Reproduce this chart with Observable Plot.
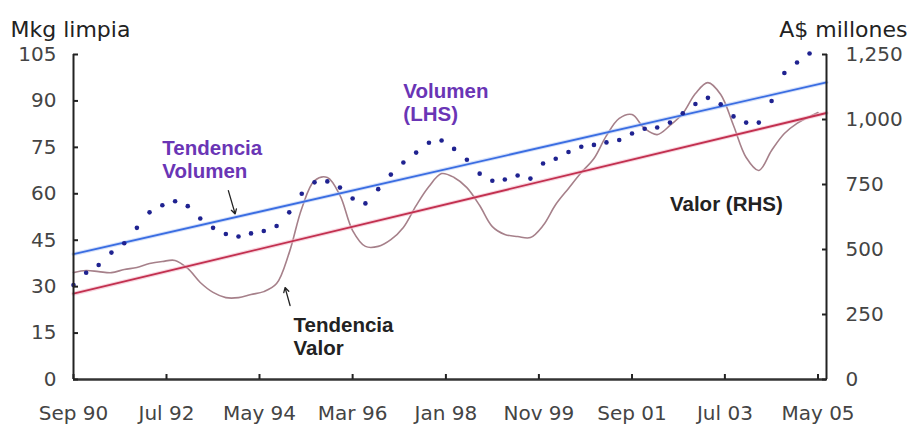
<!DOCTYPE html>
<html><head><meta charset="utf-8">
<script src="https://cdn.jsdelivr.net/npm/d3@7"></script>
<script src="https://cdn.jsdelivr.net/npm/@observablehq/plot@0.6"></script>
<style>body{margin:0;background:#fff;} svg{display:block;}</style>
</head><body><div id="chart"></div>
<script>
// Quarterly observation dates (Sep 1990 .. Mar 2005)
const quarters = ["1990-09","1990-12","1991-03","1991-06","1991-09","1991-12","1992-03","1992-06","1992-09","1992-12",
  "1993-03","1993-06","1993-09","1993-12","1994-03","1994-06","1994-09","1994-12","1995-03","1995-06",
  "1995-09","1995-12","1996-03","1996-06","1996-09","1996-12","1997-03","1997-06","1997-09","1997-12",
  "1998-03","1998-06","1998-09","1998-12","1999-03","1999-06","1999-09","1999-12","2000-03","2000-06",
  "2000-09","2000-12","2001-03","2001-06","2001-09","2001-12","2002-03","2002-06","2002-09","2002-12",
  "2003-03","2003-06","2003-09","2003-12","2004-03","2004-06","2004-09","2004-12","2005-03"];
// Volumen (LHS, Mkg limpia)
const volumen = [30.5,34.5,37,41,44,49,54,56.3,57.6,56,
  52,49,47,46.2,47.2,48,49.6,54,60,63.7,
  64,62,58.5,56.9,61.5,66.2,70.1,73.3,76.5,77.2,
  74.5,71,66.5,64.2,64.6,65.9,64.9,69.8,71.3,73.5,
  75.2,75.8,76.6,77.4,79.5,81,81.4,83,86,89,
  91,88.9,85,83,83,90,99,102.4,105.3];
// Valor (RHS, A$ millones)
const valorDates = [...quarters, "2005-05"];
const valor = [411,419,415,411,423,431,446,454,458,427,
  373,335,315,315,327,338,369,488,658,765,
  777,708,573,512,512,538,585,669,742,792,
  777,738,669,588,558,550,546,592,673,735,
  796,850,938,1004,1019,965,942,977,1023,1100,
  1142,1096,977,854,804,881,946,985,1011,1027];
// Trend lines
const trendDates = ["1990-09","2005-07"];
const trendVolumen = [40.5, 96];      // LHS
const trendValor = [330, 1025];       // RHS
// Axis ticks
const xTicks = ["1990-09","1992-07","1994-05","1996-03","1998-01","1999-11","2001-09","2003-07","2005-05"];
const yTicksL = [0,15,30,45,60,75,90,105];
const yTicksR = [0,250,500,750,1000,1250];
// Annotations
const labels = [
  {date:"1992-06", y:71.2, text:"Tendencia\nVolumen", color:"#6a35b5"},
  {date:"1997-03", y:89.7, text:"Volumen\n(LHS)", color:"#6a35b5"},
  {date:"2002-06", y:56.9, text:"Valor (RHS)", color:"#222"},
  {date:"1995-01", y:13.9, text:"Tendencia\nValor", color:"#222"}
];
const arrows = [
  {d1:"1993-09-19", y1:61, d2:"1993-11-07", y2:53.5},
  {d1:"1994-12-07", y1:23.9, d2:"1994-11-01", y2:29.7}
];

const k = 105/1250;
const parse = d3.utcParse("%Y-%m");
const parseD = s => s.length > 7 ? d3.utcParse("%Y-%m-%d")(s) : parse(s);
const volData = quarters.map((q,i)=>({date:parse(q), v:volumen[i]}));
const valData = valorDates.map((q,i)=>({date:parse(q), v:valor[i]*k}));
const tVol = trendDates.map((q,i)=>({date:parse(q), v:trendVolumen[i]}));
const tVal = trendDates.map((q,i)=>({date:parse(q), v:trendValor[i]*k}));
const x0 = parse(trendDates[0]), x1 = parse(trendDates[1]);
const axisFont = "'DejaVu Sans', sans-serif";

const chart = Plot.plot({
  width: 914, height: 429,
  marginLeft: 73, marginRight: 88, marginTop: 54, marginBottom: 50,
  style: {fontFamily: "'Liberation Sans', Arial, sans-serif", fontSize: "20px", color: "#333", background: "#fff"},
  x: {type: "utc", domain: [x0, x1]},
  y: {domain: [0, 105]},
  marks: [
    Plot.line(valData, {x:"date", y:"v", stroke:"#a6808a", strokeWidth:1.6, curve:"catmull-rom"}),
    Plot.line(tVal, {x:"date", y:"v", stroke:"#f2b8c8", strokeWidth:4, strokeOpacity:0.6}),
    Plot.line(tVal, {x:"date", y:"v", stroke:"#c2304f", strokeWidth:1.8}),
    Plot.line(tVol, {x:"date", y:"v", stroke:"#b9ccf5", strokeWidth:4, strokeOpacity:0.6}),
    Plot.line(tVol, {x:"date", y:"v", stroke:"#3a6de2", strokeWidth:1.8}),
    Plot.dot(volData, {x:"date", y:"v", r:2.3, fill:"#1f2290", stroke:"none"}),
    Plot.ruleX([x0], {stroke:"#222", strokeWidth:2}),
    Plot.ruleX([x1], {stroke:"#222", strokeWidth:2}),
    Plot.ruleY([0], {stroke:"#333", strokeWidth:2.5}),
    Plot.axisX({ticks: xTicks.map(parse), tickFormat: d3.utcFormat("%b %y"), tickSize: -5, tickPadding: 31, label: null, stroke:"#222", strokeWidth:2, fontFamily: axisFont, fontSize: 20, fill:"#444"}),
    Plot.axisY({anchor:"left", ticks: yTicksL, tickSize: -5, tickPadding: 22, label: null, stroke:"#222", strokeWidth:2, fontFamily: axisFont, fontSize: 20, fill:"#444"}),
    Plot.axisY({anchor:"right", ticks: yTicksR.map(v=>v*k), tickFormat: d => d3.format(",")(Math.round(d/k)), tickSize: -5, tickPadding: 24, label: null, stroke:"#222", strokeWidth:2, fontFamily: axisFont, fontSize: 20, fill:"#444"}),
    Plot.text(labels, {x: d=>parse(d.date), y:"y", text:"text", fill:"color", textAnchor:"start", fontWeight:"bold", fontSize:20.5, lineHeight:1.12}),
    Plot.arrow(arrows, {x1: d=>parseD(d.d1), y1:"y1", x2: d=>parseD(d.d2), y2:"y2", stroke:"#222", strokeWidth:1.3, headLength:6}),
    Plot.text(["Mkg limpia"], {frameAnchor:"top-left", textAnchor:"start", dx:-63, dy:-33, fontSize:22, fontFamily: axisFont, fill:"#222"}),
    Plot.text(["A$ millones"], {frameAnchor:"top-right", textAnchor:"end", dx:81, dy:-33, fontSize:22, fontFamily: axisFont, fill:"#222"})
  ]
});
document.getElementById("chart").appendChild(chart);
</script>
</body></html>
